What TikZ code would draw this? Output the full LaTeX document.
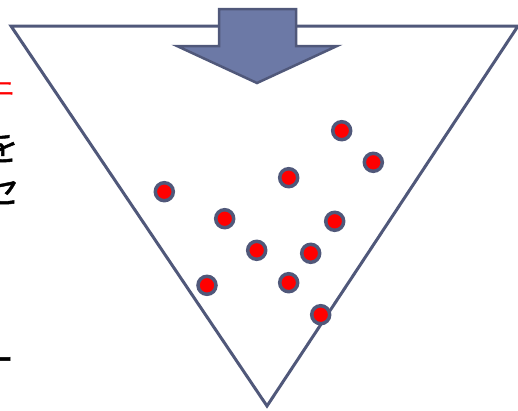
\documentclass[tikz,border=0pt]{standalone}
\usepackage{fontspec}
\newfontfamily\cjk[FakeBold=1.2]{Noto Sans CJK JP}
\newfontfamily\cjkbold[FakeBold=2.5]{Noto Sans CJK JP}
\definecolor{edge}{RGB}{80,88,122}
\definecolor{arrowfill}{RGB}{108,121,166}
\tikzset{
  outline/.style={draw=edge, line width=3pt, line join=miter},
  dot/.style={circle, draw=edge, fill=red, line width=3.5pt, minimum size=18pt, inner sep=0pt},
  blockarrow/.style={draw=edge, fill=arrowfill, line width=2.5pt, line join=miter},
  cut/.style={inner sep=0pt, anchor=east, font=\cjk\fontsize{36}{36}\selectfont}
}
\begin{document}
\begin{tikzpicture}[x=1pt,y=-1pt]
\useasboundingbox (0,0) rectangle (518,410);
\clip (0,0) rectangle (518,410);
\fill[white] (0,0) rectangle (518,410);
% cropped text at left edge
\node[cut, text=red, font=\cjkbold\fontsize{20}{20}\selectfont] (t1) at (14.5,89) {ニ};
\node[cut] (t2) at (19,147) {を};
\node[cut] (t3) at (20,190) {セ};
\node[cut] (t4) at (14,365) {ー};
% funnel
\draw[outline] (11,26) -- (518,26) -- (267,406) -- cycle;
% block arrow
\draw[blockarrow] (219,9) -- (296,9) -- (296,46) -- (337,46) -- (257,83) -- (177,46) -- (219,46) -- cycle;
% dots
\node[dot] (d1) at (341.7,130.7) {};
\node[dot] (d2) at (373.3,162.3) {};
\node[dot] (d3) at (288.7,177.7) {};
\node[dot] (d4) at (164.3,191.7) {};
\node[dot] (d5) at (224.7,218.7) {};
\node[dot] (d6) at (334.7,221.3) {};
\node[dot] (d7) at (256.7,250.3) {};
\node[dot] (d8) at (310.7,253.3) {};
\node[dot] (d9) at (207,285.3) {};
\node[dot] (d10) at (288.7,282.7) {};
\node[dot] (d11) at (320.7,314.7) {};
\end{tikzpicture}
\end{document}
